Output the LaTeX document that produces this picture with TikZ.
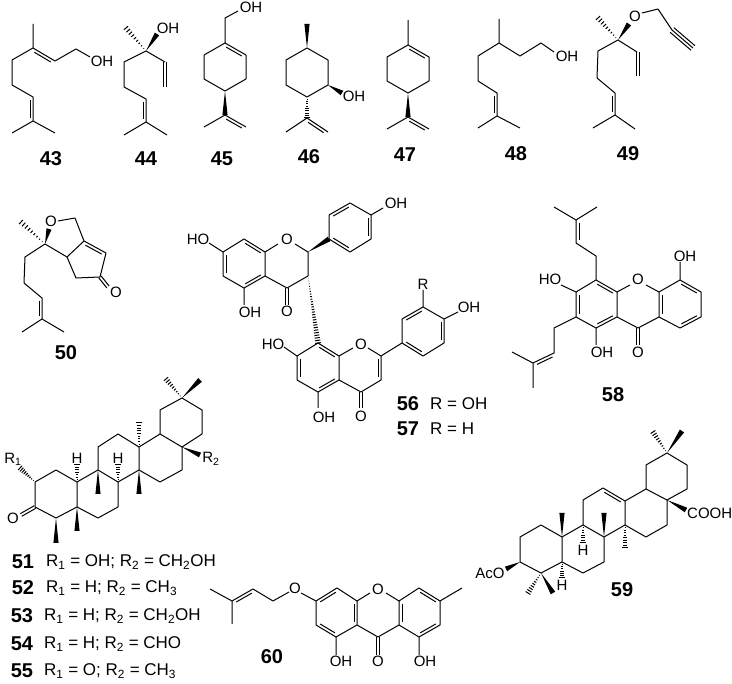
\documentclass[tikz,border=0pt]{standalone}
\usepackage{fontspec}
\setmainfont{Liberation Sans}
\usetikzlibrary{calc}

\newcommand{\dbline}[2]{\draw[bond] ($(#1)!.13!(#2)!3pt!-90:(#2)$) -- ($(#2)!.13!(#1)!3pt!90:(#1)$);}
\newcommand{\dblc}[2]{\draw[bond] ($(#1)!1.5pt!90:(#2)$) -- ($(#2)!1.5pt!-90:(#1)$) ($(#1)!1.5pt!-90:(#2)$) -- ($(#2)!1.5pt!90:(#1)$);}
\newcommand{\wdg}[2]{\fill ($(#1)$) -- ($(#2)!2.6pt!90:(#1)$) -- ($(#2)!2.6pt!-90:(#1)$) -- cycle;}
\newcommand{\hsh}[3][9]{\foreach \n in {1,...,#1}{\pgfmathsetmacro\t{\n/#1}
  \draw[hashline] ($(#2)!\t!(#3)!\t*2.8pt!90:(#2)$) -- ($(#2)!\t!(#3)!\t*2.8pt!-90:(#2)$);}}

\begin{document}
\begin{tikzpicture}[x=1pt,y=-1pt,
  bond/.style={line width=1pt,line join=round},
  hashline/.style={line width=1pt},
  atom/.style={inner sep=0pt,font=\fontsize{15}{15}\selectfont},
  cpd/.style={inner sep=0pt,font=\fontsize{20}{20}\selectfont\bfseries},
  rtext/.style={inner sep=0pt,anchor=west,font=\fontsize{17}{17}\selectfont}
  ]
  \useasboundingbox (0,0) rectangle (732,684);

  % 43
  \draw[bond] (33,24) -- (33,48) -- (55,61) -- (76,49) -- (90,57)
    (33,48) -- (12,60) -- (12,85) -- (33,97) -- (33,121) -- (12,133) (33,121) -- (55,133);
  \dbline{33,48}{55,61} \dbline{33,97}{33,121}
  \node[atom] (oh43) at (102,61) {OH};
  \node[cpd] (n43) at (51,159) {43};

  % 44
  \draw[bond] (146,51) -- (124,62) -- (124,87) -- (146,99) -- (146,122) -- (124,135) (146,122) -- (167,135)
    (146,51) -- (165,62);
  \dbline{146,99}{146,122} \dblc{165,62}{165,87}
  \hsh{146,51}{126,28} \wdg{146,51}{157,34}
  \node[atom] (oh44) at (168,28) {OH};
  \node[cpd] (n44) at (146,159) {44};

  % 45
  \draw[bond] (238,11) -- (225,18) -- (225,43) -- (246,55) -- (246,79) -- (225,91) -- (204,79) -- (204,55) -- (225,43)
    (204,127) -- (225,115) -- (246,127);
  \dbline{225,43}{246,55} \dbline{225,115}{246,127}
  \wdg{225,91}{225,115}
  \node[atom] (oh45) at (251,7) {OH};
  \node[cpd] (n45) at (222,159) {45};

  % 46
  \draw[bond] (307,48) -- (328,60) -- (328,85) -- (307,97) -- (286,85) -- (286,60) -- cycle
    (286,132) -- (307,118) -- (328,132);
  \dbline{307,118}{328,132}
  \wdg{307,48}{307,24} \wdg{328,85}{342,93} \hsh{307,97}{307,118}
  \node[atom] (oh46) at (354,96) {OH};
  \node[cpd] (n46) at (309,157) {46};

  % 47
  \draw[bond] (408,20) -- (408,45) -- (429,57) -- (429,81) -- (408,93) -- (387,81) -- (387,57) -- (408,45)
    (387,129) -- (408,117) -- (429,129);
  \dbline{408,45}{429,57} \dbline{408,117}{429,129}
  \wdg{408,93}{408,117}
  \node[cpd] (n47) at (405,155) {47};

  % 48
  \draw[bond] (499,19) -- (499,43) -- (520,56) -- (541,43) -- (554,52)
    (499,43) -- (478,56) -- (478,81) -- (497,93) -- (497,116) -- (478,128) (497,116) -- (520,128);
  \dbline{497,93}{497,116}
  \node[atom] (oh48) at (567,56) {OH};
  \node[cpd] (n48) at (516,154) {48};

  % 49
  \draw[bond] (642,13) -- (658,9) -- (672,30)
    (618,40) -- (598,51) -- (597,78) -- (615,93) -- (615,115) -- (593,128) (615,115) -- (635,129)
    (618,40) -- (637,52);
  \dbline{615,93}{615,115} \dblc{638,52}{638,76}
  \draw[bond] (672,30) -- (693,48) ($(672,30)!3pt!90:(693,48)$) -- ($(693,48)!3pt!-90:(672,30)$)
    ($(672,30)!3pt!-90:(693,48)$) -- ($(693,48)!3pt!90:(672,30)$);
  \hsh{618,40}{598,18} \wdg{618,40}{629,24}
  \node[atom] (o49) at (635,16) {O};
  \node[cpd] (n49) at (628,154) {49};

  % 50
  \draw[bond] (58,221) -- (75,218) -- (84,241) -- (106,253) -- (100,277) -- (76,278) -- (67,257) -- (84,241)
    (67,257) -- (45,244) -- (25,257) -- (24,283) -- (42,298) -- (42,319) -- (22,332) (42,319) -- (64,332);
  \dbline{84,241}{106,253} \dbline{42,298}{42,319} \dblc{100,277}{108,287}
  \hsh{45,244}{21,222} \wdg{45,244}{49,229}
  \node[atom] (o50a) at (51,221) {O};
  \node[atom] (o50b) at (116,292) {O};
  \node[cpd] (n50) at (66,353) {50};

  % 56 / 57, upper unit
  \draw[bond] (209,243) -- (223,252) -- (244,239) -- (265,252) -- (265,276) -- (244,288) -- (223,276) -- (223,252)
    (265,252) -- (278,244) (295,244) -- (308,252) -- (308,276) -- (287,288) -- (265,276)
    (244,288) -- (244,305)
    (329,239) -- (329,215) -- (350,203) -- (371,215) -- (371,239) -- (350,252) -- cycle
    (371,215) -- (383,208);
  \dbline{244,239}{265,252} \dbline{265,276}{244,288} \dbline{223,276}{223,252}
  \dbline{329,215}{350,203} \dbline{371,215}{371,239} \dbline{350,252}{329,239}
  \dblc{287,288}{287,305}
  \wdg{308,252}{329,239} \hsh[26]{308,276}{318,343}
  \node[atom] (ho56a) at (198,239) {HO};
  \node[atom] (o56a) at (287,239) {O};
  \node[atom] (o56b) at (287,311) {O};
  \node[atom] (oh56a) at (250,312) {OH};
  \node[atom] (oh56b) at (396,203) {OH};

  % 56 / 57, lower unit
  \draw[bond] (284,347) -- (297,356) -- (318,343) -- (339,356) -- (339,380) -- (318,392) -- (297,380) -- (297,356)
    (339,356) -- (353,348) (368,348) -- (381,356) -- (381,380) -- (361,392) -- (339,380)
    (318,392) -- (318,408) (381,356) -- (402,343)
    (402,343) -- (402,319) -- (423,307) -- (444,319) -- (444,343) -- (423,356) -- cycle
    (423,307) -- (423,290) (444,319) -- (458,312);
  \dbline{297,380}{297,356} \dbline{318,343}{339,356} \dbline{339,380}{318,392}
  \dbline{381,356}{381,380}
  \dbline{402,319}{423,307} \dbline{444,319}{444,343} \dbline{423,356}{402,343}
  \dblc{361,392}{361,408}
  \node[atom] (ho56b) at (273,344) {HO};
  \node[atom] (o56c) at (361,344) {O};
  \node[atom] (o56d) at (361,416) {O};
  \node[atom] (oh56c) at (324,417) {OH};
  \node[atom] (r56) at (423,284) {R};
  \node[atom] (oh56d) at (469,307) {OH};
  \node[cpd] (n56) at (408,404) {56};
  \node[cpd] (n57) at (408,429) {57};
  \node[rtext] (r56t) at (430,404) {R = OH};
  \node[rtext] (r57t) at (430,429) {R = H};

  % 58
  \draw[bond] (554,207) -- (576,220) -- (597,207) (576,220) -- (576,243) -- (596,256) -- (596,280)
    (596,280) -- (617,292) -- (617,317) -- (596,328) -- (576,317) -- (576,292) -- cycle
    (617,292) -- (630,285) (646,285) -- (659,292) -- (659,317) -- (638,328) -- (617,317)
    (659,292) -- (680,280) -- (701,292) -- (701,317) -- (680,328) -- (659,317)
    (680,280) -- (680,262) (596,328) -- (596,345) (561,285) -- (576,292)
    (576,317) -- (554,328) -- (554,353) -- (533,363) -- (512,352) (533,363) -- (533,388);
  \dbline{576,243}{576,220} \dbline{533,363}{554,353}
  \dbline{576,317}{576,292} \dbline{596,280}{617,292} \dbline{617,317}{596,328}
  \dbline{659,317}{659,292} \dbline{680,280}{701,292} \dbline{701,317}{680,328}
  \dblc{638,328}{638,345}
  \node[atom] (o58a) at (638,279) {O};
  \node[atom] (o58b) at (638,352) {O};
  \node[atom] (oh58a) at (685,256) {OH};
  \node[atom] (oh58b) at (602,352) {OH};
  \node[atom] (ho58) at (550,279) {HO};
  \node[cpd] (n58) at (613,395) {58};

  % 51-55
  \draw[bond] (182,398) -- (202,410) -- (202,434) -- (182,447) -- (160,434) -- (160,410) -- cycle
    (182,447) -- (182,470) -- (160,482) -- (139,470) -- (139,447) -- (160,434)
    (139,447) -- (118,434) -- (98,447) -- (98,470) -- (118,482) -- (139,470)
    (98,470) -- (77,482) -- (77,507) -- (98,518) -- (118,507) -- (118,482)
    (77,507) -- (56,518) -- (35,507) -- (35,482) -- (56,470) -- (77,482);
  \dblc{35,507}{21,515}
  \hsh{182,398}{166,379} \wdg{182,398}{200,380} \wdg{182,447}{200,455}
  \hsh{139,447}{139,423} \wdg{139,470}{139,494} \hsh[7]{118,482}{118,465}
  \wdg{98,470}{98,494} \hsh[7]{77,482}{77,465} \wdg{77,507}{77,531}
  \wdg{56,518}{56,543} \hsh{35,482}{20,468}
  \node[atom] (r1) at (13,459) {R\textsubscript{1}};
  \node[atom] (r2) at (211,459) {R\textsubscript{2}};
  \node[atom] (h51a) at (118,458) {H};
  \node[atom] (h51b) at (77,458) {H};
  \node[atom] (o51) at (13,518) {O};
  \node[cpd] (n51) at (23,562) {51};
  \node[cpd] (n52) at (23,588) {52};
  \node[cpd] (n53) at (22,616) {53};
  \node[cpd] (n54) at (22,644) {54};
  \node[cpd] (n55) at (22,671) {55};
  \node[rtext] (r51t) at (46,562) {R\textsubscript{1} = OH; R\textsubscript{2} = CH\textsubscript{2}OH};
  \node[rtext] (r52t) at (46,588) {R\textsubscript{1} = H; R\textsubscript{2} = CH\textsubscript{3}};
  \node[rtext] (r53t) at (44,616) {R\textsubscript{1} = H; R\textsubscript{2} = CH\textsubscript{2}OH};
  \node[rtext] (r54t) at (44,644) {R\textsubscript{1} = H; R\textsubscript{2} = CHO};
  \node[rtext] (r55t) at (44,671) {R\textsubscript{1} = O; R\textsubscript{2} = CH\textsubscript{3}};

  % 59
  \draw[bond] (667,453) -- (687,465) -- (687,489) -- (667,500) -- (646,489) -- (646,465) -- cycle
    (667,500) -- (667,525) -- (646,537) -- (625,525) -- (625,501) -- (646,489)
    (625,501) -- (603,488) -- (583,500) -- (583,525) -- (604,537) -- (625,525)
    (604,537) -- (604,562) -- (583,573) -- (562,562) -- (562,537) -- (583,525)
    (562,537) -- (541,525) -- (520,537) -- (520,562) -- (541,573) -- (562,562);
  \dbline{603,488}{625,501}
  \hsh{667,453}{653,432} \wdg{667,453}{682,431} \wdg{667,500}{686,510}
  \hsh{625,525}{625,548} \wdg{604,537}{604,513} \hsh[7]{583,525}{583,543}
  \wdg{562,537}{562,513} \hsh[7]{562,562}{562,578} \wdg{520,562}{506,569}
  \hsh{541,573}{528,593} \wdg{541,573}{553,593}
  \node[atom,anchor=west] (cooh) at (687,513) {COOH};
  \node[atom] (h59a) at (583,550) {H};
  \node[atom] (h59b) at (562,585) {H};
  \node[atom] (aco) at (490,573) {AcO};
  \node[cpd] (n59) at (622,590) {59};

  % 60
  \draw[bond] (210,589) -- (232,601) -- (253,589) -- (273,601) -- (289,592) (232,601) -- (232,624)
    (301,593) -- (316,601) -- (337,588) -- (357,601) -- (357,625) -- (336,637) -- (316,625) -- (316,601)
    (357,601) -- (370,593) (386,593) -- (399,601) -- (399,625) -- (378,637) -- (357,625)
    (399,601) -- (419,588) -- (440,601) -- (440,625) -- (419,637) -- (399,625)
    (440,601) -- (462,588) (336,637) -- (336,655) (419,637) -- (419,655);
  \dbline{232,601}{253,589}
  \dbline{316,601}{337,588} \dbline{357,601}{357,625} \dbline{336,637}{316,625}
  \dbline{399,625}{399,601} \dbline{419,588}{440,601} \dbline{440,625}{419,637}
  \dblc{378,637}{378,655}
  \node[atom] (o60a) at (295,588) {O};
  \node[atom] (o60b) at (378,589) {O};
  \node[atom] (o60c) at (378,661) {O};
  \node[atom] (oh60a) at (341,661) {OH};
  \node[atom] (oh60b) at (425,661) {OH};
  \node[cpd] (n60) at (272,657) {60};
\end{tikzpicture}
\end{document}
